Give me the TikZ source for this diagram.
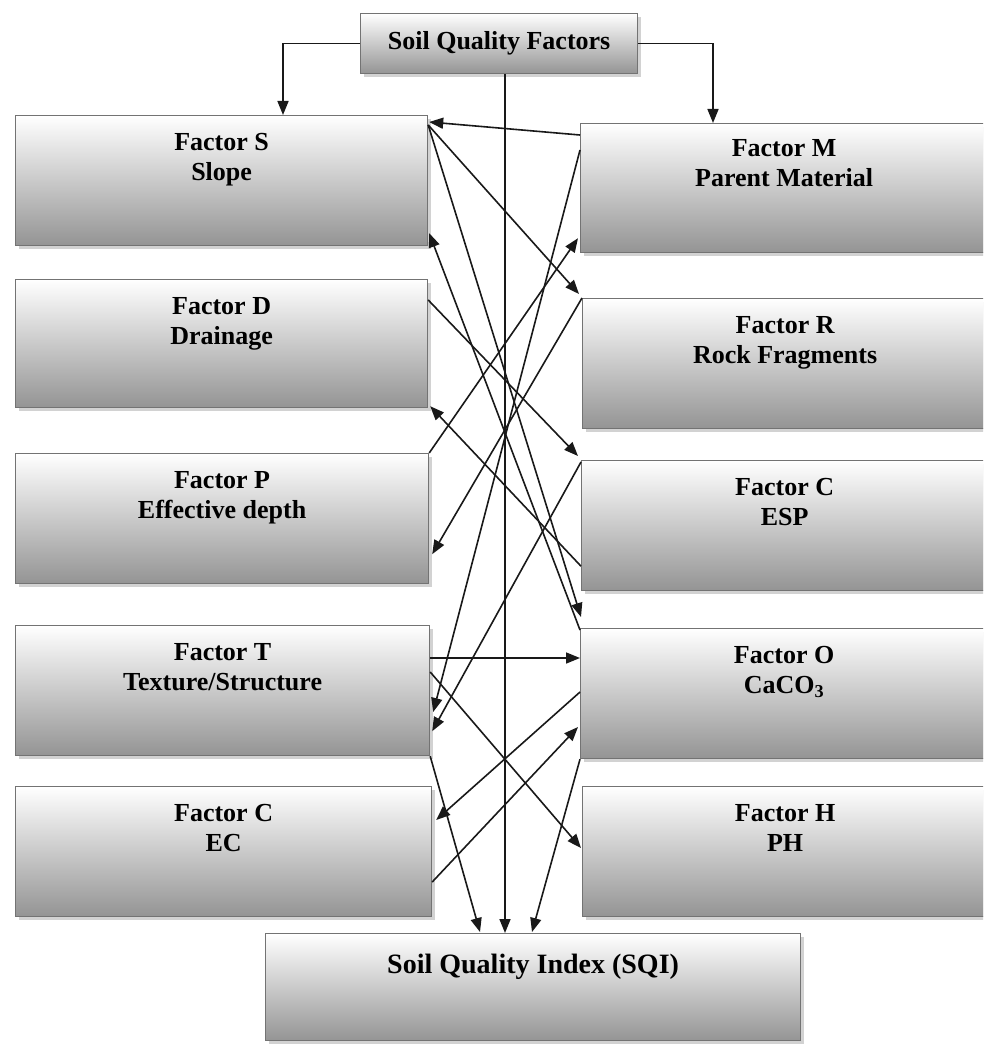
\documentclass[tikz,border=0pt]{standalone}
\usepackage{fontspec}
\setmainfont{Liberation Serif}
\usetikzlibrary{arrows.meta,shadows}
\begin{document}
\begin{tikzpicture}[x=1pt,y=-1pt,
  box/.style={draw=black!55, line width=1.2pt, rectangle, inner sep=0pt, anchor=north west,
    top color=white, middle color=black!6, bottom color=black!42,
    drop shadow={shadow xshift=3pt, shadow yshift=-3pt, fill=black!35, opacity=0.5}},
  lbl/.style={font=\bfseries\fontsize{26}{30}\selectfont, align=center, inner sep=0pt, text=black},
  arr/.style={draw=black!90, line width=1.6pt, -{Triangle[length=14pt,width=11pt]}}]
\clip (0,0) rectangle (983,1054);
\fill[white] (0,0) rectangle (983,1054);
% boxes
\node[box, minimum width=277pt, minimum height=60pt] (SQF) at (360,13) {};
\node[box, minimum width=412pt, minimum height=130pt] (S) at (15,115) {};
\node[box, minimum width=412pt, minimum height=128pt] (D) at (15,279) {};
\node[box, minimum width=413pt, minimum height=130pt] (P) at (15,453) {};
\node[box, minimum width=414pt, minimum height=130pt] (T) at (15,625) {};
\node[box, minimum width=416pt, minimum height=130pt] (EC) at (15,786) {};
\node[box, minimum width=407pt, minimum height=129pt] (M) at (580,123) {};
\node[box, minimum width=405pt, minimum height=130pt] (R) at (582,298) {};
\node[box, minimum width=406pt, minimum height=130pt] (ESP) at (581,460) {};
\node[box, minimum width=407pt, minimum height=130pt] (O) at (580,628) {};
\node[box, minimum width=405pt, minimum height=130pt] (H) at (582,786) {};
\node[box, minimum width=535pt, minimum height=107pt] (SQI) at (265,933) {};
% labels
\node[lbl] (tSQF) at (SQF.center) {Soil Quality Factors};
\node[lbl, anchor=north] (tS) at ([shift={(0,18)}]S.north) {Factor S\\Slope};
\node[lbl, anchor=north] (tD) at ([shift={(0,18)}]D.north) {Factor D\\Drainage};
\node[lbl, anchor=north] (tP) at ([shift={(0,18)}]P.north) {Factor P\\Effective depth};
\node[lbl, anchor=north] (tT) at ([shift={(0,18)}]T.north) {Factor T\\Texture/Structure};
\node[lbl, anchor=north] (tEC) at ([shift={(0,18)}]EC.north) {Factor C\\EC};
\node[lbl, anchor=north] (tM) at ([shift={(0,16)}]M.north) {Factor M\\Parent Material};
\node[lbl, anchor=north] (tR) at ([shift={(0,18)}]R.north) {Factor R\\Rock Fragments};
\node[lbl, anchor=north] (tESP) at ([shift={(0,18)}]ESP.north) {Factor C\\ESP};
\node[lbl, anchor=north] (tO) at ([shift={(0,18)}]O.north) {Factor O\\CaCO\textsubscript{3}};
\node[lbl, anchor=north] (tH) at ([shift={(0,18)}]H.north) {Factor H\\PH};
\node[lbl, font=\bfseries\fontsize{28}{32}\selectfont, anchor=north] (tSQI) at ([shift={(0,21)}]SQI.north) {Soil Quality Index (SQI)};
% top connectors
\draw[arr] (SQF.west) -| ([shift={(268,0)}]S.north west);
\draw[arr] (SQF.east) -| ([shift={(133,0)}]M.north west);
\draw[arr] ([shift={(145,0)}]SQF.south west) -- ([shift={(240,0)}]SQI.north west);
% cross connectors
\draw[arr] ([shift={(0,12)}]M.north west) -- ([shift={(1,7)}]S.north east);
\draw[arr] ([shift={(0,10)}]S.north east) -- ([shift={(-3,-4)}]R.north west);
\draw[arr] ([shift={(0,10)}]S.north east) -- ([shift={(1,-11)}]O.north west);
\draw[arr] ([shift={(0,2)}]O.north west) -- ([shift={(1,-13)}]S.south east);
\draw[arr] ([shift={(0,21)}]D.north east) -- ([shift={(-3,-4)}]ESP.north west);
\draw[arr] ([shift={(0,-25)}]ESP.south west) -- ([shift={(2,-2)}]D.south east);
\draw[arr] (P.north east) -- ([shift={(-2,-15)}]M.south west);
\draw[arr] ([shift={(0,27)}]M.north west) -- ([shift={(3,87)}]T.north east);
\draw[arr] (R.north west) -- ([shift={(3,-30)}]P.south east);
\draw[arr] ([shift={(0,2)}]ESP.north west) -- ([shift={(2,-25)}]T.south east);
\draw[arr] ([shift={(0,33)}]T.north east) -- ([shift={(0,30)}]O.north west);
\draw[arr] ([shift={(0,47)}]T.north east) -- ([shift={(-1,62)}]H.north west);
\draw[arr] ([shift={(0,64)}]O.north west) -- ([shift={(4,34)}]EC.north east);
\draw[arr] ([shift={(0,96)}]EC.north east) -- ([shift={(-2,99)}]O.north west);
\draw[arr] (T.south east) -- ([shift={(215,-1)}]SQI.north west);
\draw[arr] (O.south west) -- ([shift={(267,-1)}]SQI.north west);
\end{tikzpicture}
\end{document}
